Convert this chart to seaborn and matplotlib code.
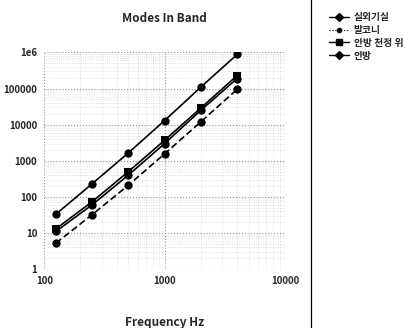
import numpy as np
import pandas as pd
import matplotlib
matplotlib.use("Agg")
import matplotlib.pyplot as plt
from matplotlib.lines import Line2D
import seaborn as sns

# octave band centre frequencies
freqs = [125, 250, 500, 1000, 2000, 4000]

# number of room modes in each band
outdoor_room = [33, 230, 1650, 13000, 110000, 880000]
balcony = [5.2, 32, 210, 1550, 12000, 95000]
above_ceiling = [13, 73, 500, 3700, 29000, 230000]
bedroom = [11, 60, 400, 3000, 25000, 190000]

labels = ["실외기실", "발코니", "안방 천정 위", "안방"]
series = [outdoor_room, balcony, above_ceiling, bedroom]

ytick_vals = [1, 10, 100, 1000, 10000, 100000, 1000000]
ytick_labels = ["1", "10", "100", "1000", "10000", "100000", "1e6"]
xtick_vals = [100, 1000, 10000]
xtick_labels = ["100", "1000", "10000"]

rows = []
for lab, vals in zip(labels, series):
    for f, v in zip(freqs, vals):
        rows.append({"freq": f, "modes": v, "room": lab})
df = pd.DataFrame(rows)

sns.set_style("white")
plt.rcParams["font.family"] = ["Noto Sans CJK KR", "DejaVu Sans"]

fig = plt.figure(figsize=(4.06, 3.28), dpi=100)
ax = fig.add_axes([0.109, 0.180, 0.593, 0.660])

markers = {labels[0]: "o", labels[1]: "o", labels[2]: "s", labels[3]: "o"}
dashes = {labels[0]: "", labels[1]: (4, 2), labels[2]: "", labels[3]: ""}
palette = {lab: "black" for lab in labels}

sns.lineplot(data=df, x="freq", y="modes", hue="room", style="room",
             markers=markers, dashes=dashes, palette=palette,
             linewidth=1.2, markersize=6, markeredgewidth=0, ax=ax,
             legend=False)

ax.set_xscale("log")
ax.set_yscale("log")
ax.set_xlim(100, 10000)
ax.set_ylim(1, 1000000)

ax.grid(True, which="major", color="#999999", linestyle=":", linewidth=0.8)
ax.grid(True, which="minor", color="#d0d0d0", linestyle=":", linewidth=0.5)
for s in ax.spines.values():
    s.set_visible(False)

ax.set_xticks(xtick_vals)
ax.set_xticklabels(xtick_labels, fontsize=7, fontweight="heavy")
ax.set_yticks(ytick_vals)
ax.set_yticklabels(ytick_labels, fontsize=7, fontweight="heavy")
ax.tick_params(axis="both", which="both", length=2, pad=3)
ax.minorticks_on()

ax.set_xlabel("Frequency Hz", fontsize=8.5, fontweight="heavy", labelpad=22)
ax.set_ylabel("")
ax.set_title("Modes In Band", fontsize=8.5, fontweight="heavy", pad=22)

# separator line between plot and legend
fig.add_artist(Line2D([0.766, 0.766], [0.0, 1.0], color="black", linewidth=0.9))

handles = [
    Line2D([], [], color="black", marker="D", markersize=4, linewidth=1.0),
    Line2D([], [], color="black", marker="o", markersize=3, linestyle=":", linewidth=0.8),
    Line2D([], [], color="black", marker="s", markersize=4, linewidth=1.0),
    Line2D([], [], color="black", marker="D", markersize=4, linewidth=1.0),
]
fig.legend(handles, labels, loc="upper left", bbox_to_anchor=(0.79, 0.99),
           frameon=False, handlelength=2.0, handletextpad=0.5,
           labelspacing=0.3, prop={"weight": "heavy", "size": 7})

fig.savefig("out.png", dpi=100)
